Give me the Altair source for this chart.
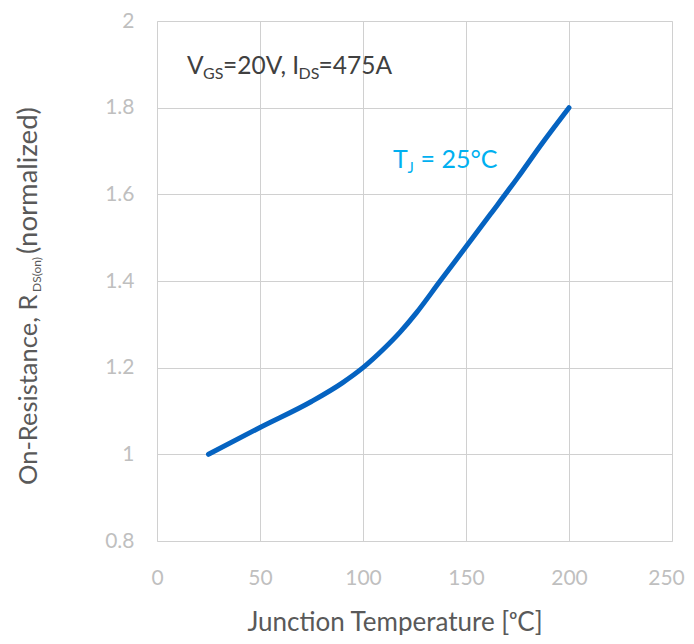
import altair as alt
import pandas as pd

# ---- data ----
temp_c = [25, 50, 75, 90, 100, 110, 118, 126, 137, 150, 162, 175, 187, 200]
rds_norm = [1.0, 1.062, 1.122, 1.165, 1.200, 1.243, 1.282, 1.327, 1.397, 1.479, 1.555, 1.638, 1.718, 1.80]
x_ticks = [0, 50, 100, 150, 200, 250]
y_ticks = [0.8, 1.0, 1.2, 1.4, 1.6, 1.8, 2.0]

FONT = "Lato"
GRID = "#d0d0d0"
LABEL = "#bfbfbf"
TITLE = "#595959"

W, H = 515, 520

df = pd.DataFrame({"T": temp_c, "R": rds_norm})

xs = alt.Scale(domain=[0, 250], nice=False)
ys = alt.Scale(domain=[0.8, 2.0], nice=False)

line = alt.Chart(df).mark_line(
    color="#0563C1", strokeWidth=5, strokeCap="round", interpolate="monotone"
).encode(
    x=alt.X("T:Q", scale=xs,
            axis=alt.Axis(values=x_ticks, grid=True, gridColor=GRID, gridWidth=1,
                          domain=False, ticks=False, labelFont=FONT, labelFontSize=21,
                          labelColor=LABEL, labelPadding=26, labelFlush=False,
                          labelOffset=alt.condition("datum.value == 250", alt.value(-6), alt.value(0)),
                          title="Junction Temperature [ᵒC]", titleFont=FONT,
                          titleFontSize=26, titleFontWeight="normal", titleColor=TITLE,
                          titleX=237.5, titleY=89, titleAlign="center",
                          titleBaseline="alphabetic")),
    y=alt.Y("R:Q", scale=ys,
            axis=alt.Axis(values=y_ticks, format="~g", grid=True, gridColor=GRID,
                          gridWidth=1, domain=False, ticks=False, labelFont=FONT,
                          labelFontSize=21, labelColor=LABEL, labelPadding=23,
                          labelFlush=False, title=None)),
)

# ---- in-plot annotations (subscripts built from separate text pieces) ----
def piece(text, x, y, size, color, dx=0, dy=0):
    d = pd.DataFrame({"T": [x], "R": [y], "txt": [text]})
    return alt.Chart(d).mark_text(
        font=FONT, fontSize=size, color=color, align="left", baseline="alphabetic",
        dx=dx, dy=dy
    ).encode(x=alt.X("T:Q", scale=xs), y=alt.Y("R:Q", scale=ys), text="txt:N")

VC = "#404040"
vx, vy = 14.6, 1.877
ann_v = [
    piece("V", vx, vy, 24.5, VC, 0, 0),
    piece("GS", vx, vy, 16, VC, 16, 5),
    piece("=20V, I", vx, vy, 24.5, VC, 36, 0),
    piece("DS", vx, vy, 16, VC, 111.5, 5),
    piece("=475A", vx, vy, 24.5, VC, 131.5, 0),
]

TC = "#00B0F0"
tx, ty = 114.6, 1.661
ann_t = [
    piece("T", tx, ty, 25, TC, 0, 0),
    piece("J", tx, ty, 15, TC, 14.5, 5),
    piece("= 25°C", tx, ty, 25, TC, 27.5, 0),
]

# ---- y axis title with subscript, rotated ----
def ypiece(text, ypix, size, xpix):
    return alt.Chart(pd.DataFrame({"txt": [text]})).mark_text(
        font=FONT, fontSize=size, color=TITLE, align="left", baseline="alphabetic",
        angle=270
    ).encode(x=alt.value(xpix), y=alt.value(ypix), text="txt:N")

ytitle = [
    ypiece("On-Resistance, R", 464, 25.5, -120),
    ypiece("DS(on)", 271, 12, -116),
    ypiece("(normalized)", 233, 27.5, -120),
]

chart = alt.layer(line, *ann_v, *ann_t, *ytitle).properties(
    width=W, height=H,
    autosize=alt.AutoSizeParams(type="none"),
    padding={"left": 149, "top": 13, "right": 14, "bottom": 94},
).configure_view(stroke=None).configure(background="white")

chart.save("out.html", embed_options={"renderer": "svg", "actions": False})
